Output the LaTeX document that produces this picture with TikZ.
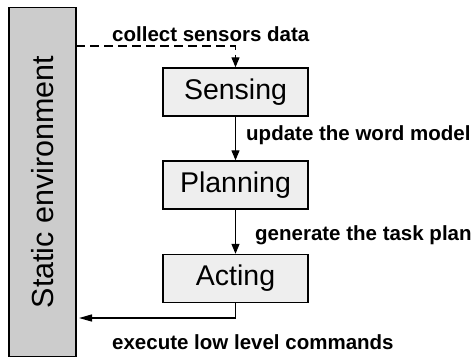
\documentclass[tikz,border=0pt]{standalone}
\usepackage{fontspec}
\setmainfont{Liberation Sans}
\usetikzlibrary{arrows.meta}
\definecolor{envgray}{HTML}{CCCCCC}
\definecolor{stagegray}{HTML}{EEEEEE}
\tikzset{
  stage/.style={draw, line width=1.4pt, fill=stagegray, minimum width=145pt,
    minimum height=48pt, inner sep=0pt, font=\fontsize{28.5}{30}\selectfont},
  envbox/.style={draw, line width=1.4pt, fill=envgray, minimum width=67pt,
    minimum height=349pt, inner sep=0pt},
  flow/.style={line width=1.3pt, -{Triangle[width=8pt,length=10pt]}},
  lbl/.style={font=\fontsize{20.5}{22}\selectfont\bfseries, inner sep=0pt, anchor=west},
}
\begin{document}
\begin{tikzpicture}[x=1pt, y=-1pt]
  \useasboundingbox (0,0) rectangle (474,359);
  % environment column
  \node[envbox] (env) at (42.5,182) {};
  \node[rotate=90, font=\fontsize{30.5}{32}\selectfont] (envtext) at (42.5,182) {Static environment};
  % the three stages
  \node[stage] (sens) at (235.5,92) {Sensing};
  \node[stage] (plan) at (235.5,185) {Planning};
  \node[stage] (act) at (235.5,278.5) {Acting};
  % connectors
  \coordinate (senseIn) at (76,46);
  \coordinate (actOut) at (79,318);
  \draw[flow, dash pattern=on 9pt off 5pt] (senseIn) -| (sens.north);
  \draw[flow] (sens.south) -- (plan.north);
  \draw[flow] (plan.south) -- (act.north);
  \draw[line width=1.3pt, -{Triangle[width=7pt,length=13pt]}] (act.south) |- (actOut);
  % labels
  \node[lbl] (l1) at (112,34) {collect sensors data};
  \node[lbl] (l2) at (246,135) {update the word model};
  \node[lbl] (l3) at (255,235) {generate the task plan};
  \node[lbl] (l4) at (112,342) {execute low level commands};
\end{tikzpicture}
\end{document}
